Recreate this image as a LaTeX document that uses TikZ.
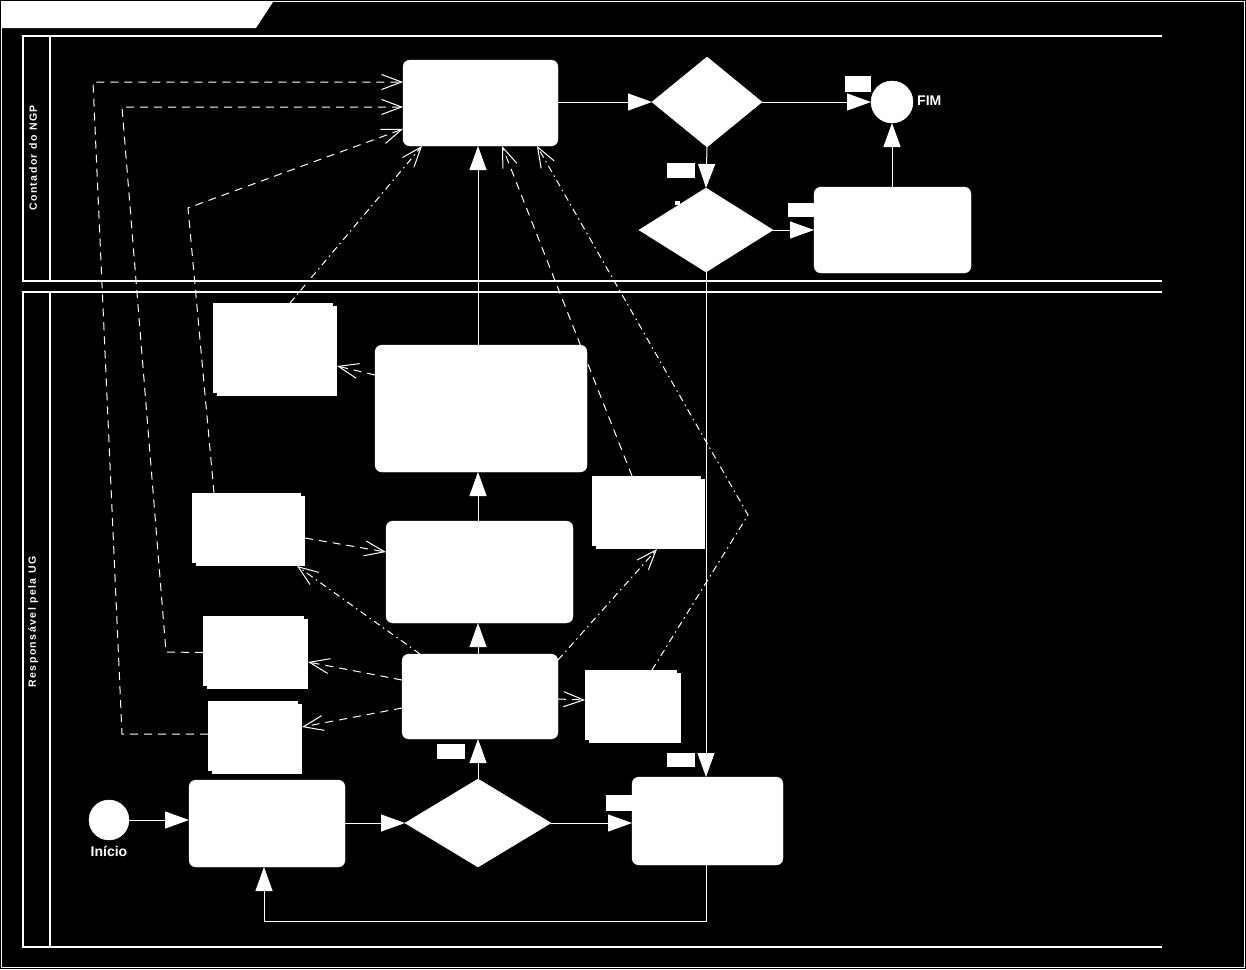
\documentclass[tikz,border=0pt]{standalone}
\usepackage{fontspec}
\setmainfont{Liberation Sans}
\newfontfamily\lanefont[LetterSpace=14]{Liberation Sans Bold}
\usetikzlibrary{arrows.meta,shapes.geometric}
\begin{document}
\begin{tikzpicture}[x=1pt,y=-1pt,
  proc/.style={draw=white,fill=white,rounded corners=7pt,inner sep=0pt,outer sep=0pt},
  docbox/.style={draw=none,fill=white,inner sep=0pt,outer sep=0pt},
  dec/.style={diamond,draw=white,fill=white,inner sep=0pt,outer sep=0pt},
  evt/.style={circle,draw=white,fill=white,inner sep=0pt,outer sep=0pt},
  tag/.style={fill=white},
  flow/.style={draw=white,line width=1pt,-{Triangle[length=24pt,width=17pt]}},
  msg/.style={draw=white,line width=1pt,dash pattern=on 8pt off 6pt,-{Straight Barb[length=20pt,width=15pt]}},
  assoc/.style={draw=white,line width=1pt,dash pattern=on 7pt off 4pt on 1.5pt off 4pt,-{Straight Barb[length=20pt,width=15pt]}},
  lane/.style={draw=white,line width=2.4pt},
  lanelabel/.style={text=white,font=\lanefont\fontsize{10.5}{12}\selectfont,rotate=90,inner sep=0pt},
  evlabel/.style={text=white,font=\bfseries\fontsize{14}{16}\selectfont,inner sep=0pt}
]
\useasboundingbox (0,0) rectangle (1246,969);
\fill[black] (0,0) rectangle (1246,969);
\draw[white,line width=1pt] (1,1) rectangle (1244.5,967.5);
\fill[white] (2,2) -- (273,2) -- (256,28) -- (2,28) -- cycle;

% lanes
\draw[lane] (1162,36) -- (23,36) -- (23,281) -- (1162,281);
\draw[lane] (50,36) -- (50,281);
\draw[lane] (1162,292) -- (23,292) -- (23,947) -- (1162,947);
\draw[lane] (50,292) -- (50,947);
\node[lanelabel] (lab1) at (33,158) {Contador do NGP};
\node[lanelabel] (lab2) at (33,622) {Responsável pela UG};

% lane 1 nodes
\node[proc,minimum width=155pt,minimum height=86pt] (A1) at (480.5,103) {};
\node[dec,minimum width=110pt,minimum height=90pt] (D1) at (707,102) {};
\node[evt,minimum size=42pt] (FIM) at (892,102) {};
\node[evlabel,anchor=base west] (fimlab) at (917,105) {FIM};
\node[dec,minimum width=134pt,minimum height=84pt] (D2) at (706,230) {};
\node[proc,minimum width=157pt,minimum height=86pt] (B1) at (892.5,230) {};

% lane 2 nodes
\node[proc,minimum width=212pt,minimum height=127pt] (T) at (481,408.5) {};
\node[proc,minimum width=187pt,minimum height=102pt] (C) at (479.5,572) {};
\node[proc,minimum width=156pt,minimum height=85pt] (M) at (480,696.5) {};
\node[proc,minimum width=156pt,minimum height=87pt] (S) at (267,823.5) {};
\node[dec,minimum width=146pt,minimum height=88pt] (D3) at (478,823) {};
\node[proc,minimum width=151pt,minimum height=88pt] (B3) at (707.5,821) {};
\node[evt,minimum size=40pt] (I) at (109,820) {};
\node[evlabel,anchor=base] (inilab) at (109,856) {Início};

\node[docbox,minimum width=124pt,minimum height=93pt] (L1) at (275,349.5) {};
\fill[black] (333,303) rectangle (337,306); \fill[black] (213,393) rectangle (217,396);
\node[docbox,minimum width=113pt,minimum height=73pt] (L2) at (248.5,529.5) {};
\fill[black] (301,493) rectangle (305,496); \fill[black] (192,563) rectangle (196,566);
\node[docbox,minimum width=105pt,minimum height=73pt] (L3) at (255.5,652.5) {};
\fill[black] (304,616) rectangle (308,619); \fill[black] (203,686) rectangle (207,689);
\node[docbox,minimum width=94pt,minimum height=73pt] (L4) at (255,737.5) {};
\fill[black] (298,701) rectangle (302,704); \fill[black] (208,771) rectangle (212,774);
\node[docbox,minimum width=113pt,minimum height=73pt] (R1) at (648.5,512.5) {};
\fill[black] (701,476) rectangle (705,479); \fill[black] (592,546) rectangle (596,549);
\node[docbox,minimum width=96pt,minimum height=73pt] (R2) at (633,706.5) {};
\fill[black] (677,670) rectangle (681,673); \fill[black] (585,740) rectangle (589,743);

% bend points
\coordinate (bR) at (748,515);
\coordinate (bL2) at (188,208);
\coordinate (bL3a) at (166,652);
\coordinate (bL3b) at (122,107);
\coordinate (bL4a) at (122,734);
\coordinate (bL4b) at (93,82);

% solid flows
\draw[flow] (I) -- (S.west |- I);
\draw[flow] (S.east |- D3.west) -- (D3.west);
\draw[flow] (D3.east) -- (B3.west |- D3.east);
\draw[flow] (D3.north) -- (M.south -| D3.north);
\draw[flow] (M.north -| D3.north) -- (C.south -| D3.north);
\draw[flow] (C.north -| D3.north) -- (T.south -| D3.north);
\draw[flow] (T.north -| D3.north) -- (A1.south -| D3.north);
\draw[flow] (A1.east |- D1.west) -- (D1.west);
\draw[flow] (D1.east) -- (FIM.west);
\draw[flow] (D1.south) -- (D2.north);
\draw[flow] (D2.east) -- (B1.west |- D2.east);
\draw[flow] (B1.north -| FIM.south) -- (FIM.south);
\draw[flow] (D2.south) -- (B3.north -| D2.south);
\draw[flow] (B3.south -| D2.south) -- ++(0,56) -| ([xshift=-3pt]S.south);

% dashed messages
\draw[msg] (T.west |- 0,375) -- (L1.east |- 0,366);
\draw[msg] (L2.east |- 0,538) -- (C.west |- 0,552);
\draw[msg] (M.west |- 0,680) -- (L3.east |- 0,662);
\draw[msg] (M.west |- 0,708) -- (L4.east |- 0,727);
\draw[msg] (M.east |- 0,699) -- (R2.west |- 0,700);
\draw[msg] (R1.north -| 632,0) -- (A1.south -| 502,0);
\draw[msg] (L2.north -| 214,0) -- (bL2) -- (A1.west |- 0,129);
\draw[msg] (L3.west) -- (bL3a) -- (bL3b) -- (A1.west |- 0,107);
\draw[msg] (L4.west |- 0,734) -- (bL4a) -- (bL4b) -- (A1.west |- 0,82);

% dash-dot associations
\draw[assoc] (M.north -| 420,0) -- (L2.south -| 297,0);
\draw[assoc] (M.east |- 0,660) -- (R1.south -| 657,0);
\draw[assoc] (R2.north -| 652,0) -- (bR) -- (A1.south -| 537,0);
\draw[assoc] (L1.north -| 290,0) -- (A1.south -| 422,0);

% label tags
\fill[tag] (845,76) rectangle (871,92);
\fill[tag] (667,163) rectangle (695,178);
\fill[tag] (675,201) rectangle (680,205);
\fill[tag] (788,203) rectangle (814,217);
\fill[tag] (437,744) rectangle (465,759);
\fill[tag] (606,795) rectangle (632,811);
\fill[tag] (667,753) rectangle (695,767);
\end{tikzpicture}
\end{document}
